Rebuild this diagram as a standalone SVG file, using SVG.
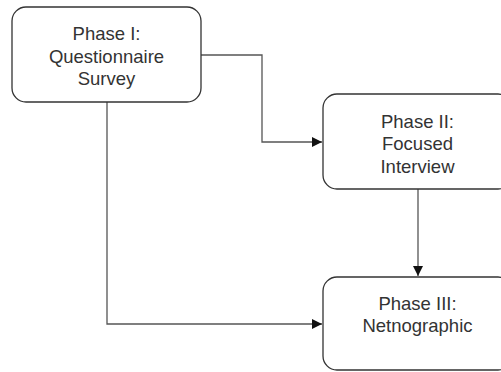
<svg xmlns="http://www.w3.org/2000/svg" width="501" height="372" viewBox="0 0 501 372">
  <style>
    .box { fill: #ffffff; stroke: #333333; stroke-width: 1.3; }
    .label { font-family: "Liberation Sans", Arial, sans-serif; font-size: 18.5px; fill: #333333; text-anchor: middle; }
    .wire { fill: none; stroke: #555555; stroke-width: 1.3; }
  </style>
  <defs>
    <marker id="arrow" viewBox="0 0 10 10" refX="10" refY="5" markerWidth="10" markerHeight="10" markerUnits="userSpaceOnUse" orient="auto">
      <path d="M0,0 L10,5 L0,10 Z" fill="#111111"/>
    </marker>
  </defs>
  <rect width="501" height="372" fill="#ffffff"/>

  <g id="connectors">
    <path class="wire" d="M201,55 H262 V142 H322" marker-end="url(#arrow)"/>
    <path class="wire" d="M107,102 V324 H322" marker-end="url(#arrow)"/>
    <path class="wire" d="M418,189 V276" marker-end="url(#arrow)"/>
  </g>

  <g id="phase1">
    <rect class="box" x="12" y="7" width="189" height="95" rx="14" ry="14"/>
    <text class="label" x="106.5" y="40">Phase I:</text>
    <text class="label" x="106.5" y="62.5">Questionnaire</text>
    <text class="label" x="106.5" y="85">Survey</text>
  </g>

  <g id="phase2">
    <rect class="box" x="323" y="94" width="189" height="95" rx="14" ry="14"/>
    <text class="label" x="417.5" y="127.5">Phase II:</text>
    <text class="label" x="417.5" y="150">Focused</text>
    <text class="label" x="417.5" y="172.5">Interview</text>
  </g>

  <g id="phase3">
    <rect class="box" x="323" y="277" width="189" height="93" rx="14" ry="14"/>
    <text class="label" x="417.5" y="309.5">Phase III:</text>
    <text class="label" x="417.5" y="332">Netnographic</text>
  </g>
</svg>
